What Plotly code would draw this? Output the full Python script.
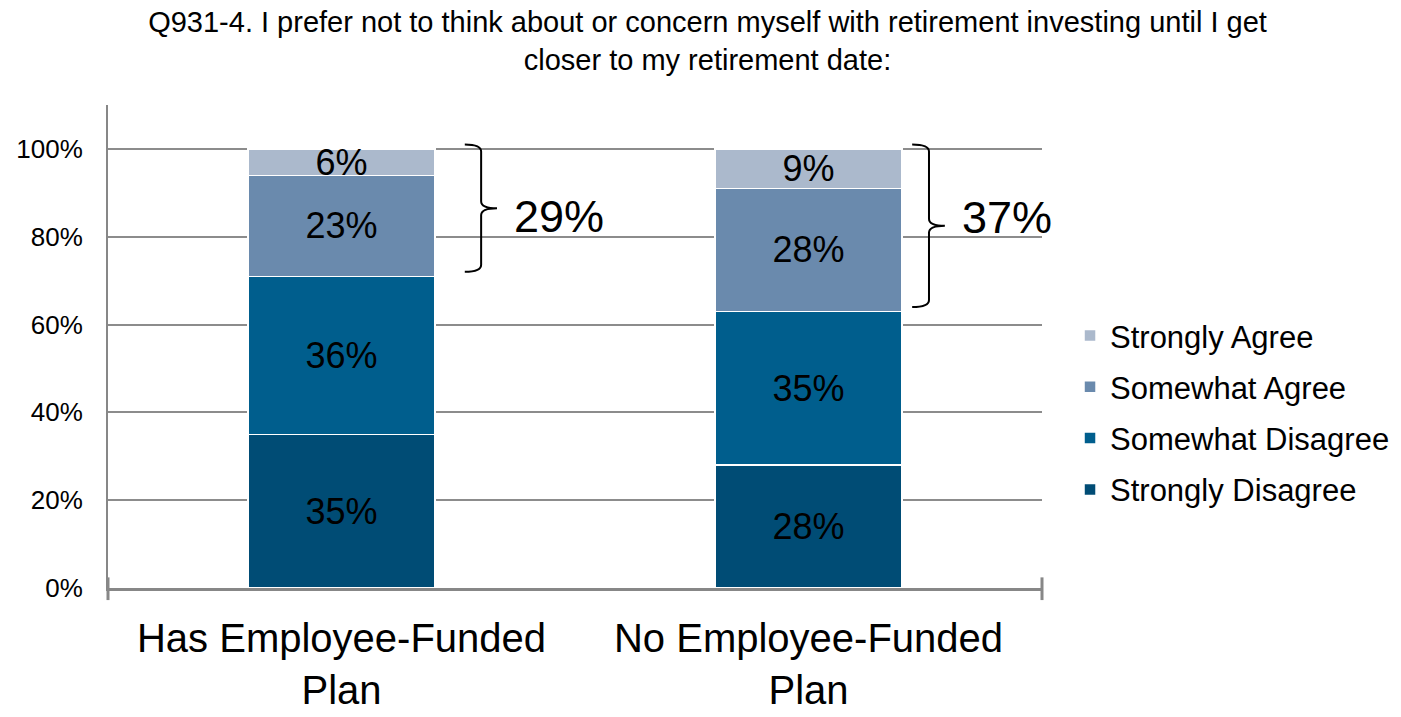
import plotly.graph_objects as go

categories = ["Has Employee-Funded<br>Plan", "No Employee-Funded<br>Plan"]
series_names = ["Strongly Disagree", "Somewhat Disagree", "Somewhat Agree", "Strongly Agree"]
strongly_disagree = [35, 28]
somewhat_disagree = [36, 35]
somewhat_agree = [23, 28]
strongly_agree = [6, 9]
agree_totals = [29, 37]
y_ticks = [0, 20, 40, 60, 80, 100]
y_tick_labels = ["0%", "20%", "40%", "60%", "80%", "100%"]

colors = ["#004C75", "#005E8D", "#6A8AAD", "#ABB9CC"]
legend_ranks = [4, 3, 2, 1]
FONT = "Liberation Sans, Arial, sans-serif"

xpos = [0, 1]
fig = go.Figure()
for name, vals, col, rank in zip(series_names,
                                 [strongly_disagree, somewhat_disagree, somewhat_agree, strongly_agree],
                                 colors, legend_ranks):
    fig.add_trace(go.Bar(
        x=xpos, y=vals, name=name, width=0.4,
        marker=dict(color=col, line=dict(color="white", width=1.5)),
        text=[f"{v}%" for v in vals], textposition="inside",
        insidetextanchor="middle", constraintext="none",
        textfont=dict(size=36, color="black", family=FONT),
        legendgroup=name, legendrank=rank, hoverinfo="skip",
    ))

# braces spanning the agree segments
shapes = []
brace_geo = [(0.264, 0.299, 0.333), (1.222, 1.258, 1.292)]
for i, (x0, x1, x2) in enumerate(brace_geo):
    base = strongly_disagree[i] + somewhat_disagree[i]
    ytop = base + agree_totals[i] + 1.0
    ybot = base + 1.0
    ymid = (ytop + ybot) / 2
    r = 1.6
    path = (f"M {x0},{ytop} Q {x1},{ytop} {x1},{ytop - r} L {x1},{ymid + r} "
            f"Q {x1},{ymid} {x2},{ymid} Q {x1},{ymid} {x1},{ymid - r} "
            f"L {x1},{ybot + r} Q {x1},{ybot} {x0},{ybot}")
    shapes.append(dict(type="path", path=path, xref="x", yref="y",
                       line=dict(color="black", width=2)))

text_pos = [(0.466, 84.7), (1.425, 84.3)]
annotations = []
for (tx, ty), tot in zip(text_pos, agree_totals):
    annotations.append(dict(x=tx, y=ty, xref="x", yref="y", text=f"{tot}%",
                            showarrow=False, font=dict(size=45, color="black", family=FONT)))

# end tick marks of category axis
for px in [0, 1]:
    shapes.append(dict(type="line", xref="paper", yref="paper", x0=px, x1=px,
                       y0=0.022, y1=-0.025, line=dict(color="#878787", width=3)))

fig.update_layout(
    width=1401, height=717,
    margin=dict(l=108, r=359, t=105, b=129, autoexpand=False),
    paper_bgcolor="white", plot_bgcolor="white",
    barmode="stack",
    title=dict(text="Q931-4. I prefer not to think about or concern myself with retirement investing until I get<br>closer to my retirement date:",
               x=0.505, xanchor="center", y=0.955, yanchor="top",
               font=dict(size=29, color="black", family=FONT)),
    xaxis=dict(range=[-0.5, 1.5], tickvals=xpos, ticktext=categories,
               tickfont=dict(size=40, color="black", family=FONT),
               showline=True, linecolor="#878787", linewidth=3,
               showgrid=False, zeroline=False, ticks="", ticklabelstandoff=13),
    yaxis=dict(range=[0, 110], tickvals=y_ticks, ticktext=y_tick_labels,
               tickfont=dict(size=26, color="black", family=FONT),
               showline=True, linecolor="#878787", linewidth=2,
               showgrid=True, gridcolor="#8C8C8C", gridwidth=2,
               zeroline=False, ticks="", ticklabelstandoff=18),
    legend=dict(x=1.03, y=0.578, xanchor="left", yanchor="top",
                traceorder="grouped", tracegroupgap=8,
                font=dict(size=31, color="black", family=FONT)),
    shapes=shapes, annotations=annotations,
    showlegend=True,
)

fig.write_html("out.html", config={"displayModeBar": False},
               post_script="document.body.style.margin='0';document.body.style.overflow='hidden';")
